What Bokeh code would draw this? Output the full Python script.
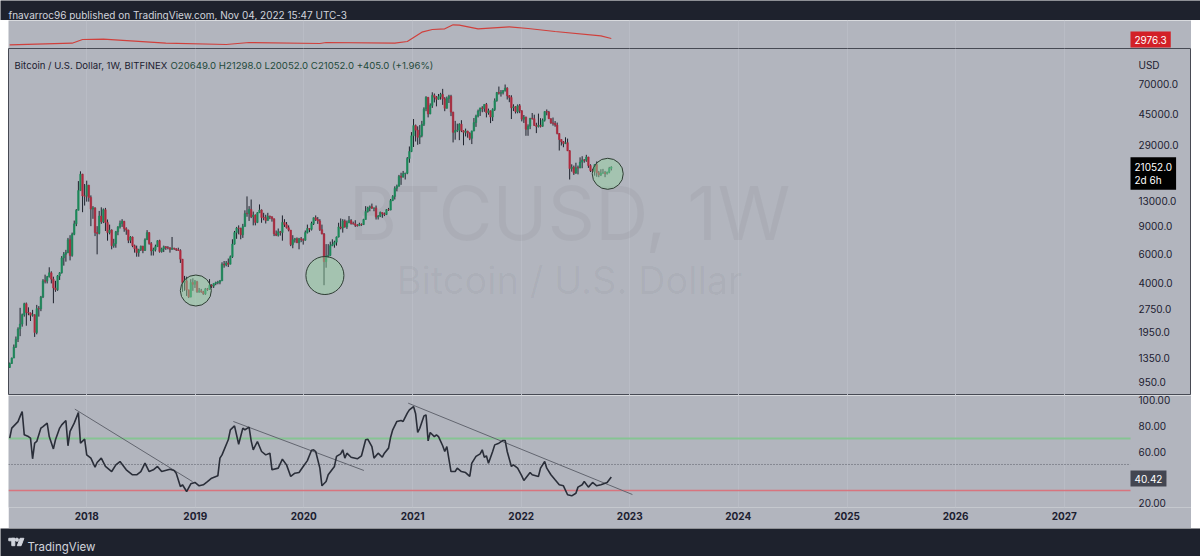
import re
import pandas as pd
from bokeh.plotting import figure
from bokeh.layouts import column, row
from bokeh.models import (Range1d, FixedTicker, Label, Spacer,
                          ColumnDataSource, CustomJSTickFormatter)
from bokeh.embed import file_html
from bokeh.resources import INLINE

# ---------------------------------------------------------------- data
first_week = "2017-04-17"          # weekly bars, Monday open
first_open = 1180.0

close_2017 = [1250, 1350, 1580, 1770, 2050, 2200, 2520, 2950, 2600, 2580, 2500, 2520, 1950, 2750, 2740, 3250,
              4100, 4080, 4350, 4600, 4200, 3700, 3600, 4400, 4600, 5700, 6000, 6150, 7400, 5900, 8000, 9300,
              11300, 15000, 19000, 13900, 13850]
high_2017 = [1265, 1360, 1640, 1840, 2100, 2780, 2560, 2990, 3000, 2800, 2600, 2700, 2530, 2900, 2850, 3300,
             4200, 4480, 4400, 4980, 4700, 4350, 4100, 4450, 4650, 5850, 6200, 6400, 7600, 7900, 8200, 9750,
             11500, 17200, 19800, 19100, 16500]
low_2017 = [1170, 1240, 1350, 1560, 1700, 1850, 2120, 2450, 2150, 2500, 2300, 2450, 1830, 1900, 2450, 2650,
            3200, 3950, 3950, 4300, 3950, 2970, 3500, 3550, 4150, 4550, 5100, 5400, 6100, 5500, 5800, 7900,
            9000, 11300, 15000, 11000, 12100]

close_2018 = [16200, 13600, 11500, 11700, 8200, 8100, 10400, 9600, 11400, 9500, 8200, 8500, 6800, 7000, 8300,
              8900, 9350, 9650, 8700, 8500, 7350, 7700, 6800, 6500, 6150, 6400, 6750, 6350, 7400, 8200, 7000,
              6300, 6400, 6700, 7300, 6250, 6500, 6700, 6600, 6580, 6450, 6550, 6500, 6400, 6350, 5600, 4000,
              4100, 3600, 3250, 4000, 3900, 4050]
high_2018 = [17300, 16300, 14000, 12000, 11800, 9000, 11200, 11800, 11600, 11700, 9900, 9200, 8600, 7500, 8400,
             9000, 9750, 9950, 9700, 8850, 8550, 7800, 7750, 6900, 6800, 6500, 6800, 6780, 7550, 8500, 8250,
             7150, 6600, 6900, 7350, 7400, 6600, 6800, 6750, 6750, 6650, 7700, 6600, 6550, 6600, 6450, 5600,
             4400, 4350, 3600, 4200, 4250, 4150]
low_2018 = [12800, 12800, 9000, 10000, 7800, 6000, 8000, 9300, 9400, 8400, 7300, 8000, 6450, 6600, 6600,
            7900, 8700, 8900, 8300, 7950, 7050, 7050, 6650, 6150, 5800, 5800, 6300, 6100, 6300, 7400, 6900,
            5900, 5900, 6250, 6700, 6150, 6150, 6200, 6400, 6450, 6150, 6400, 6400, 6300, 6300, 5300, 3500,
            3550, 3300, 3200, 3230, 3550, 3700]

close_2019 = [3500, 3550, 3500, 3400, 3650, 3630, 3850, 3800, 3950, 4000, 4020, 4100, 5200, 5150, 5300, 5200,
              5800, 6950, 8200, 8750, 8720, 7950, 8950, 10800, 10780, 11450, 10300, 10550, 9500, 10900, 11350,
              10200, 10150, 9750, 10400, 10300, 10000, 8050, 7900, 8300, 8200, 9500, 9200, 8800, 8500, 6900,
              7400, 7500, 7100, 7500, 7400, 7350]
high_2019 = [4100, 3700, 3650, 3550, 3700, 3700, 4200, 3900, 3950, 4050, 4100, 4150, 5350, 5450, 5450, 5650,
             5900, 7450, 8400, 8900, 9100, 8800, 9300, 11300, 13800, 12000, 13200, 11100, 10650, 11000, 12300,
             11450, 10900, 10600, 10900, 10450, 10350, 10050, 8450, 8700, 8400, 10500, 9950, 9550, 9100, 8500,
             7900, 7600, 7650, 7600, 7700, 7550]
low_2019 = [3450, 3450, 3450, 3350, 3350, 3550, 3600, 3700, 3700, 3850, 3900, 3900, 4100, 4950, 5050, 5000,
            5200, 5700, 6900, 7500, 8000, 7450, 7600, 8950, 10300, 9700, 10100, 9100, 9100, 9400, 10900,
            9450, 9800, 9350, 9750, 9950, 9600, 7800, 7800, 7750, 7850, 7300, 8900, 8700, 8350, 6750,
            6550, 7100, 7050, 6450, 7150, 6900]

close_2020 = [8200, 8700, 8600, 9350, 10150, 9900, 9700, 8550, 8050, 5400, 5850, 5900, 6800, 6900, 7150, 7700,
              8900, 8750, 9700, 8900, 9450, 9750, 9350, 9300, 9100, 9050, 9250, 9200, 9900, 11100, 11700,
              11900, 11650, 11700, 10250, 10400, 10950, 10750, 10650, 11400, 11350, 13000, 13800, 15500,
              16000, 18400, 18200, 19150, 19250, 23800, 26300, 33000]
high_2020 = [8450, 9200, 8750, 9600, 10200, 10500, 10250, 9950, 9200, 8150, 6950, 6950, 7200, 7450, 7300, 7750,
             9450, 10050, 9950, 9900, 9750, 10400, 9950, 9600, 9800, 9250, 9450, 9350, 10000, 12000, 11900,
             12100, 12450, 11750, 12100, 10550, 11100, 10950, 10950, 11500, 11700, 13300, 14050, 15950,
             16350, 18800, 19400, 19900, 19400, 24300, 28300, 34800]
low_2020 = [7300, 8100, 8250, 8450, 9150, 9700, 9300, 8400, 8000, 3850, 4950, 5700, 5850, 6750, 6600, 6800,
            7650, 8600, 8200, 8800, 8650, 9400, 9200, 9200, 8900, 8950, 9050, 9050, 9150, 9900, 10950,
            11150, 11550, 11150, 9900, 9900, 10250, 10150, 10400, 10550, 11200, 11300, 12900, 13200,
            14850, 15900, 16300, 18150, 17600, 19000, 22400, 26100]

close_2021 = [38200, 35800, 32300, 33100, 38900, 48600, 57400, 45200, 51000, 59000, 57500, 55800, 58000, 59800,
              56200, 49000, 56400, 58200, 46400, 34700, 35600, 35800, 39000, 35500, 34700, 35300, 34250, 31800,
              35400, 39900, 43800, 47100, 49300, 48800, 51800, 46000, 47300, 43200, 48200, 54700, 61500, 60900,
              61300, 63300, 65500, 58700, 57200, 49400, 50100, 46700, 50800, 47300]
high_2021 = [42000, 38800, 37800, 38500, 40900, 49700, 58300, 57500, 52600, 61700, 60600, 58400, 60200, 61200,
             64800, 57500, 58000, 59500, 59500, 46600, 40900, 39300, 39500, 41300, 35700, 36600, 35500, 34700,
             35500, 42600, 44700, 48100, 49400, 50500, 51900, 52900, 48800, 47400, 49000, 56500, 62000, 67000,
             63700, 63600, 69000, 66300, 59300, 59100, 51900, 50500, 51800, 52100]
low_2021 = [28100, 30400, 29000, 29300, 32300, 38000, 47000, 43000, 45000, 49300, 53300, 50400, 55500, 55500,
            51500, 47000, 48800, 52900, 43800, 30000, 31200, 34800, 31000, 34800, 28800, 32700, 32100, 31000,
            29300, 35200, 37500, 43000, 43900, 46300, 46600, 43000, 44700, 39600, 40800, 47200, 53900, 59700,
            58000, 59800, 62300, 55600, 53500, 42000, 47100, 45500, 45600, 45700]

close_2022 = [41900, 43100, 36300, 37900, 42400, 42200, 38300, 37700, 38400, 37800, 41300, 46800, 46400, 42200,
              39700, 39500, 38500, 34100, 31300, 30300, 29500, 29900, 26600, 20600, 21000, 19300, 20850, 20800,
              22600, 23300, 23200, 24300, 21500, 20000, 19800, 21800, 19400, 18800, 19300, 19400, 19200, 19550,
              20649, 21052]
high_2022 = [47600, 44500, 43500, 38900, 42700, 45800, 44700, 39800, 45400, 42500, 42300, 47000, 48200, 47200,
             42400, 42900, 40800, 39900, 34300, 31400, 30600, 32300, 31700, 26800, 21900, 21500, 22400, 21500,
             24200, 24600, 23600, 25100, 24400, 21900, 20500, 21900, 22800, 19900, 20400, 20500, 19900, 19700,
             21100, 21298]
low_2022 = [40600, 39700, 33000, 33000, 36300, 41700, 38000, 34300, 37200, 37200, 37600, 40500, 44300, 42000,
            39200, 38200, 37600, 33700, 26700, 28700, 28000, 29300, 26500, 17600, 19700, 18800, 19100, 18950,
            20700, 20700, 22400, 22700, 20800, 19600, 19600, 18600, 18300, 18200, 18500, 19100, 18200, 18900,
            19250, 20052]

close = close_2017 + close_2018 + close_2019 + close_2020 + close_2021 + close_2022
high = high_2017 + high_2018 + high_2019 + high_2020 + high_2021 + high_2022
low = low_2017 + low_2018 + low_2019 + low_2020 + low_2021 + low_2022

# RSI(14): week index (from first_week) and value
rsi_week = [0, 1, 4, 5, 6, 7, 9, 10, 11, 12, 13, 15, 16, 18, 19, 21, 22, 24, 25, 27, 28, 29, 31, 33, 34, 36, 37,
            39, 41, 42, 44, 46, 49, 51, 53, 56, 59, 61, 63, 65, 67, 69, 71, 73, 77, 79, 80, 82, 83, 85, 87, 89,
            91, 93, 95, 97, 100, 101, 102, 105, 106, 108, 110, 112, 113, 115, 116, 117, 119, 121, 123, 125,
            126, 129, 131, 133, 135, 137, 139, 141, 143, 145, 146, 147, 149, 150, 152, 153, 156, 157, 159, 160,
            161, 162, 164, 167, 169, 171, 172, 174, 175, 177, 179, 180, 182, 183, 184, 186, 188, 189, 191, 192,
            194, 195, 196, 197, 199, 200, 201, 202, 204, 205, 206, 208, 209, 210, 212, 214, 215, 217, 219, 221,
            222, 224, 226, 227, 228, 229, 230, 232, 233, 235, 237, 238, 239, 241, 242, 244, 246, 247, 250, 251,
            254, 255, 257, 258, 260, 262, 264, 266, 268, 270, 272, 273, 275, 276, 278, 280, 282, 284, 287, 289]
rsi_value = [70.3, 78, 83, 87, 90.8, 72.8, 71.5, 70.3, 54.4, 66.4, 67.7, 78, 79.2, 81.8, 71.5, 62, 69, 78, 80.5,
             83.8, 64.4, 75.4, 81.8, 90, 66.4, 69.5, 57.4, 54.9, 47.9, 51.5, 54.9, 48.5, 44.6, 49.7, 52.3, 45.9,
             42.1, 42.1, 44.6, 51, 44.6, 45.9, 48.5, 44.6, 46.4, 45.4, 43.3, 33, 34.4, 29.2, 35.1, 36.2, 33.6,
             34.4, 36.9, 39.5, 41.3, 54.9, 57.4, 69, 76.7, 79.7, 65.6, 78, 76.7, 78.7, 68.2, 61.3, 67.7, 60,
             57.4, 58.7, 45.9, 47.2, 54.1, 49.7, 40.8, 43.3, 43.8, 48.5, 53, 61, 61.3, 60, 47.2, 33.6, 36.9,
             42.1, 48.5, 56.2, 58.2, 61.3, 54.9, 58.7, 55.6, 54.4, 56.7, 69, 69.5, 63.8, 54.9, 58.7, 55.6, 58.7,
             62.6, 71, 76.7, 83.1, 83.8, 83.1, 89.5, 92, 94.6, 89, 74.6, 77.9, 87.4, 88.2, 68.2, 74.6, 71.5,
             72.8, 71.5, 64.4, 60, 63.8, 44.6, 44.6, 47.2, 44.6, 43.8, 40.8, 51, 56.2, 58.2, 61.3, 55.6, 56.7,
             51, 60, 65.1, 66.4, 68.5, 68.5, 60, 48.5, 49.7, 47.2, 41.3, 37.7, 43.8, 42.1, 40.8, 47.2, 52.3,
             47.2, 42.1, 38.2, 34.4, 33.6, 26.7, 25.9, 27.9, 32.6, 34.4, 36.9, 32.6, 36.2, 33.6, 34.4, 36.2,
             40.42]

# upper indicator pane (red line), week index and value
ind_week = [0, 30, 35, 45, 75, 104, 115, 149, 152, 185, 191, 198, 203, 209, 213, 216, 225, 240, 249, 262, 284, 289]
ind_value = [2346, 2506, 2876, 2906, 2506, 2376, 2576, 2476, 2576, 2506, 2676, 3606, 3876, 3946, 4346, 4306,
             3946, 4146, 3976, 3676, 3246, 2976.3]

# drawings
circle_date = ["2019-01-03", "2020-03-12", "2022-10-19"]
circle_price = [3566, 4424, 19104]
circle_px = [31, 38, 31]

trend_x0 = ["2017-11-22", "2019-05-09", "2020-12-17"]
trend_y0 = [92.6, 83.1, 97.2]
trend_x1 = ["2018-12-23", "2020-07-21", "2023-01-10"]
trend_y1 = [36.8, 45.4, 26.9]

rsi_levels = [70, 50, 30]
price_ticks = [950, 1350, 1950, 2750, 4000, 6000, 9000, 13000, 29000, 45000, 70000]
rsi_ticks = [20, 40, 60, 80, 100]
years = list(range(2018, 2028))

header_text = "fnavarroc96 published on TradingView.com, Nov 04, 2022 15:47 UTC-3"
title_text = "Bitcoin / U.S. Dollar, 1W, BITFINEX"
ohlc_text = "O20649.0  H21298.0  L20052.0  C21052.0  +405.0 (+1.96%)"
last_price_text = "21052.0\n2d 6h"
last_rsi_text = "40.42"
last_ind_text = "2976.3"

assert len(close) == len(high) == len(low)
assert len(rsi_week) == len(rsi_value)
assert len(ind_week) == len(ind_value)

# ---------------------------------------------------------------- style
BG = "#b2b5be"
DARK = "#1e222d"
GRID = "#b9bcc5"
SEP = "#474a54"
TXT = "#1c2030"
UP = "#1c8a5a"
DOWN = "#b02a3e"
FONT = "Inter"

PANEL_W = 1183

dates = pd.date_range(first_week, periods=len(close), freq="7D")
opens = [first_open] + close[:-1]
src = ColumnDataSource(dict(
    x=dates, high=high, low=low,
    top=[max(o, c) for o, c in zip(opens, close)],
    bottom=[min(o, c) for o, c in zip(opens, close)],
    color=[UP if c >= o else DOWN for o, c in zip(opens, close)],
))

year_ms = [pd.Timestamp(f"{y}-01-01").value // 10**6 for y in years]
view_start = pd.Timestamp("2017-04-13")
axis_at = pd.Timestamp("2027-08-12")          # where the price scale begins
x_range = Range1d(view_start, pd.Timestamp("2028-03-04"))
axis_ms = axis_at.value // 10**6


def panel(height, y_range, y_type="linear", xaxis=False, yaxis=False, bottom=0):
    f = figure(width=PANEL_W, height=height, x_range=x_range, y_range=y_range,
               x_axis_type="datetime", y_axis_type=y_type,
               x_axis_location="below" if xaxis else None,
               y_axis_location="right" if yaxis else None,
               output_backend="svg", toolbar_location=None,
               min_border_left=0, min_border_right=0, min_border_top=0,
               min_border_bottom=bottom,
               background_fill_color=BG, border_fill_color=BG, outline_line_color=None)
    f.xgrid.ticker = FixedTicker(ticks=year_ms)
    f.xgrid.grid_line_color = GRID
    f.ygrid.grid_line_color = None
    return f


def style_axis(ax, size="10px", bold=False, standoff=8):
    ax.axis_line_color = None
    ax.major_tick_line_color = None
    ax.minor_tick_line_color = None
    ax.major_tick_out = 0
    ax.major_tick_in = 0
    ax.major_label_standoff = standoff
    ax.major_label_text_font = FONT
    ax.major_label_text_font_size = size
    ax.major_label_text_color = TXT
    ax.major_label_text_font_style = "bold" if bold else "normal"


def label(fig, x, y, text, size="10px", color=TXT, align="left", baseline="alphabetic",
          bg=None, pad=0, alpha=1.0, bold=False, units="screen", level="annotation",
          line_height=1.2):
    lb = Label(x=x, y=y, x_units=units, y_units=units, text=text, text_font=FONT,
               text_font_size=size, text_color=color, text_align=align,
               text_baseline=baseline, text_alpha=alpha, text_line_height=line_height,
               text_font_style="bold" if bold else "normal", level=level)
    if bg is not None:
        lb.background_fill_color = bg
        lb.padding = pad
    fig.add_layout(lb)


# ---------------------------------------------------------------- header / footer
header = figure(width=1200, height=20, x_range=Range1d(0, 1200), y_range=Range1d(20, 0),
                x_axis_location=None, y_axis_location=None, output_backend="svg",
                toolbar_location=None, min_border=0, background_fill_color=DARK,
                border_fill_color=DARK, outline_line_color=None)
header.grid.grid_line_color = None
label(header, 8, 14, header_text, size="10px", color="#d1d4dc", units="data")

footer = figure(width=1200, height=28, x_range=Range1d(0, 1200), y_range=Range1d(556, 528),
                x_axis_location=None, y_axis_location=None, output_backend="svg",
                toolbar_location=None, min_border=0, background_fill_color=DARK,
                border_fill_color=DARK, outline_line_color=None)
footer.grid.grid_line_color = None
footer.quad(left=[8.3], right=[14.3], top=[537.8], bottom=[540.3], color="#d1d4dc")
footer.quad(left=[11.3], right=[14.3], top=[537.8], bottom=[545.2], color="#d1d4dc")
footer.scatter(x=[16.4], y=[539.2], size=3.2, color="#d1d4dc")
footer.patch(x=[19.6, 23.4, 20.6, 16.8], y=[537.8, 537.8, 545.2, 545.2], color="#d1d4dc")
label(footer, 27, 546, "TradingView", size="11.5px", color="#d1d4dc", units="data")

# ---------------------------------------------------------------- top indicator pane
top = panel(28, Range1d(1976.3, 4776.3))
top.line(x=[dates[i] for i in ind_week], y=ind_value, line_color="#d0403c", line_width=1.2)
label(top, 1122, 9, last_ind_text, size="10px", color="#ffffff", baseline="middle",
      bg="#d32027", pad=4)

# ---------------------------------------------------------------- price pane
main = panel(347, Range1d(788, 115800), y_type="log", yaxis=True)
main.outline_line_color = SEP
main.outline_line_width = 1
main.yaxis.fixed_location = axis_ms
main.yaxis.ticker = FixedTicker(ticks=price_ticks)
main.yaxis.formatter = CustomJSTickFormatter(code="return tick.toFixed(1);")
style_axis(main.yaxis[0])

label(main, 561, 183, "BTCUSD, 1W", size="74px", color="#000000", align="center",
      alpha=0.04, level="underlay")
label(main, 561, 116, "Bitcoin / U.S. Dollar", size="38px", color="#000000", align="center",
      alpha=0.04, level="underlay")

main.segment(x0="x", y0="low", x1="x", y1="high", source=src, line_color="#1e222d", line_width=1)
main.vbar(x="x", width=5 * 86400000, top="top", bottom="bottom", source=src,
          fill_color="color", line_color="color", line_width=0.6)

main.scatter(x=pd.to_datetime(circle_date), y=circle_price, size=circle_px, marker="circle",
             fill_color="#93d49f", fill_alpha=0.45, line_color="#2e3d33", line_width=1)

label(main, 6, 330, title_text, size="9.6px", color=TXT)
label(main, 162, 330, ohlc_text, size="9.6px", color="#1f4a3b")
label(main, 1130, 331, "USD", size="10px", color=TXT)
label(main, 1122, 222, last_price_text, size="10px", color="#ffffff", baseline="middle",
      bg="#000000", pad=4, line_height=1.05)

# ---------------------------------------------------------------- RSI pane
rsi = panel(133, Range1d(16.92, 103.08), xaxis=True, yaxis=True, bottom=21)
rsi.yaxis.fixed_location = axis_ms
rsi.yaxis.ticker = FixedTicker(ticks=rsi_ticks)
rsi.yaxis.formatter = CustomJSTickFormatter(code="return tick.toFixed(2);")
style_axis(rsi.yaxis[0])
rsi.xaxis.ticker = FixedTicker(ticks=year_ms)
rsi.xaxis.formatter = CustomJSTickFormatter(code="return String(new Date(tick).getUTCFullYear());")
style_axis(rsi.xaxis[0], size="10px", bold=True, standoff=4)

lvl_colors = ["#86c493", "#5a5d68", "#d8747e"]
lvl_widths = [2, 1, 1.5]
lvl_dash = ["solid", "1 2", "solid"]
for lv, lc, lw, ld in zip(rsi_levels, lvl_colors, lvl_widths, lvl_dash):
    rsi.segment(x0=[view_start], y0=[lv], x1=[axis_at], y1=[lv], line_color=lc, line_width=lw,
                line_dash=ld)
rsi.segment(x0=pd.to_datetime(trend_x0), y0=trend_y0, x1=pd.to_datetime(trend_x1), y1=trend_y1,
            line_color="#62656f", line_width=1)
rsi.line(x=[dates[i] for i in rsi_week], y=rsi_value, line_color="#2a2e39", line_width=1.6)
label(rsi, 1122, 29, last_rsi_text, size="10px", color="#ffffff", baseline="middle",
      bg="#434651", pad=4)

# ---------------------------------------------------------------- layout
panels = column(top, main, rsi, spacing=0)
mid = row(Spacer(width=8, height=508), panels, Spacer(width=9, height=508), spacing=0)
layout = column(header, mid, footer, spacing=0)

html = file_html(layout, INLINE, title="BTCUSD 1W")
html = re.sub(r"<body[^>]*>",
              '<body style="margin:0;padding:0;background-color:#1e222d;overflow:hidden;">',
              html, count=1)
open("out.html", "w").write(html)
